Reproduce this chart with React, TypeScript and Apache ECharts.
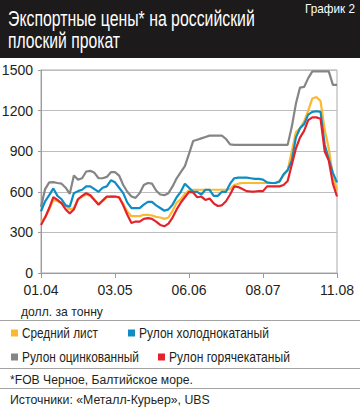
import React, { useEffect, useRef } from 'react';
import * as echarts from 'echarts';

// ---- data ----
const tickLabels = ['01.04', '03.05', '06.06', '08.07', '11.08'];
const stepsPerTick = 18;
const categories = Array.from({ length: (tickLabels.length - 1) * stepsPerTick + 1 }, (_, i) => String(i));

const seriesNames = ['Рулон оцинкованный', 'Средний лист', 'Рулон холоднокатаный', 'Рулон горячекатаный'];

const galvanized = [
  490, 620, 670, 672, 665, 660, 630, 585, 720, 690, 700, 750, 755, 740, 700, 700, 710, 745,
  745, 720, 650, 600, 565, 555, 590, 650, 665, 660, 610, 580, 575, 590, 640, 700, 745, 790,
  880, 975, 985, 995, 1005, 1015, 1015, 1015, 1015, 990, 950,
  947, 947, 947, 947, 947, 947, 947, 947, 947, 947, 947,
  947, 947, 947, 1080, 1250, 1370, 1375, 1440, 1490, 1490, 1490, 1490, 1490, 1390, 1390,
];
const mediumSheet = [
  380, 410, 470, 540, 530, 520, 495, 470, 480, 545, 565, 580, 570, 540, 510, 535, 560, 565,
  565, 555, 510, 455, 420, 420, 420, 430, 430, 425, 415, 410, 400, 410, 460, 520, 545, 585,
  610, 615, 615, 615, 615, 615, 615, 615, 615, 615, 620,
  650, 660, 665, 665, 665, 665, 665, 665, 665, 665, 665,
  680, 720, 760, 900, 1040, 1070, 1120, 1200, 1290, 1300, 1270, 1060, 920, 720, 610,
];
const coldRolled = [
  455, 530, 575, 625, 570, 545, 500, 490, 590, 605, 615, 640, 640, 620, 600, 630, 640, 685,
  670, 630, 590, 520, 480, 480, 480, 505, 525, 525, 500, 480, 460, 470, 505, 560, 600, 660,
  630, 600, 600, 580, 615, 615, 570, 570, 600, 600, 660,
  700, 705, 705, 705, 700, 695, 695, 690, 670, 665, 665,
  675, 730, 760, 830, 1000, 1070, 1100, 1170, 1190, 1195, 1190, 950, 840, 740, 670,
];
const hotRolled = [
  355, 410, 480, 560, 540, 515, 470, 440, 470, 545, 570, 590, 575, 540, 505, 535, 565, 565,
  565, 560, 500, 430, 370, 380, 380, 400, 405, 400, 380, 355, 345, 365, 410, 470, 520, 560,
  600, 595, 560, 565, 540, 550, 515, 495, 500, 530, 580,
  640, 635, 620, 605, 602, 602, 605, 605, 640, 640, 640,
  640, 650, 680, 800, 920, 1000, 1050, 1130, 1150, 1150, 1140, 900, 830, 660, 565,
];

const seriesData = [galvanized, mediumSheet, coldRolled, hotRolled];
const seriesColors = ['#858585', '#fbb92f', '#0e8dc4', '#e4222b'];

const FONT = "'Liberation Sans', Arial, sans-serif";
const TEXT = '#231f20';

let measureCtx: CanvasRenderingContext2D | null = null;
function measure(text: string, size: number): number {
  if (!measureCtx) measureCtx = document.createElement('canvas').getContext('2d');
  if (!measureCtx) return text.length * size * 0.5;
  measureCtx.font = `${size}px ${FONT}`;
  return measureCtx.measureText(text).width;
}

// text squeezed horizontally to a target width (the original uses a condensed face)
function fitText(text: string, size: number, x: number, y: number, width: number, fill: string, align: 'left' | 'right' = 'left') {
  const w = measure(text, size);
  const sx = Math.min(1, width / w);
  return {
    type: 'text',
    x,
    y,
    scaleX: sx,
    silent: true,
    style: { text, fill, fontSize: size, fontFamily: FONT, verticalAlign: 'middle', align },
  };
}

export default function App() {
  const ref = useRef<HTMLDivElement>(null);
  useEffect(() => {
    if (!ref.current) return;
    const chart = echarts.init(ref.current, undefined, { renderer: 'svg' });

    const legendEntries: [number, number, number, number][] = [
      // [series index, icon x, row centre y, text width]
      [1, 11, 333, 76],
      [2, 128, 333, 130],
      [0, 11, 357, 117],
      [3, 158, 357, 121],
    ];
    const legendGraphics: any[] = [];
    legendEntries.forEach(([si, x, cy, tw]) => {
      legendGraphics.push({
        type: 'rect',
        shape: { x, y: cy - 3.5, width: 7, height: 7 },
        style: { fill: seriesColors[si] },
        silent: true,
      });
      legendGraphics.push(fitText(seriesNames[si], 14, x + 11, cy, tw, TEXT));
    });

    const option: any = {
      animation: false,
      backgroundColor: '#ffffff',
      textStyle: { fontFamily: FONT },
      grid: {
        left: 41,
        right: 23,
        top: 70,
        bottom: 142,
        show: true,
        borderColor: '#ababab',
        borderWidth: 1,
        containLabel: false,
        outerBoundsMode: 'none',
      },
      xAxis: {
        type: 'category',
        data: categories,
        boundaryGap: false,
        axisLine: { lineStyle: { color: '#9c9c9c', width: 1 } },
        axisTick: { show: true, interval: stepsPerTick - 1, length: 5, lineStyle: { color: '#9c9c9c' } },
        axisLabel: {
          interval: stepsPerTick - 1,
          margin: 10,
          fontSize: 14,
          color: TEXT,
          fontFamily: FONT,
          formatter: (_v: string, i: number) => tickLabels[i / stepsPerTick] ?? '',
        },
        splitLine: { show: false },
      },
      yAxis: {
        type: 'value',
        min: 0,
        max: 1500,
        interval: 300,
        axisLine: { show: true, lineStyle: { color: '#9c9c9c' } },
        axisTick: { show: true, length: 3, lineStyle: { color: '#9c9c9c' } },
        axisLabel: { margin: 8, fontSize: 14, color: TEXT, fontFamily: FONT, formatter: (v: number) => String(v) },
        splitLine: { lineStyle: { color: '#bdbdbd', width: 1 } },
      },
      series: seriesNames.map((name, i) => ({
        name,
        type: 'line',
        data: seriesData[i],
        color: seriesColors[i],
        symbol: 'none',
        lineStyle: { width: 2.2 },
        emphasis: { disabled: true },
      })),
      graphic: [
        { type: 'rect', shape: { x: 0, y: 0, width: 360, height: 58 }, style: { fill: '#1d1a1b' }, silent: true },
        fitText('Экспортные цены* на российский', 22, 8, 18.5, 247, '#ffffff'),
        fitText('плоский прокат', 22, 8, 40.5, 112, '#ffffff'),
        fitText('График 2', 12.5, 355, 8.5, 50, '#ffffff', 'right'),
        fitText('долл. за тонну', 13, 21, 311.5, 82, TEXT),
        { type: 'line', shape: { x1: 0, y1: 320.5, x2: 360, y2: 320.5 }, style: { stroke: '#a3a3a3', lineWidth: 1 }, silent: true },
        ...legendGraphics,
        { type: 'line', shape: { x1: 0, y1: 368.5, x2: 360, y2: 368.5 }, style: { stroke: '#a3a3a3', lineWidth: 1 }, silent: true },
        fitText('*FOB Черное, Балтийское море.', 13.5, 10, 379, 183, TEXT),
        { type: 'line', shape: { x1: 0, y1: 388.5, x2: 360, y2: 388.5 }, style: { stroke: '#a3a3a3', lineWidth: 1 }, silent: true },
        fitText('Источники: «Металл-Курьер», UBS', 13.5, 10, 399, 200, TEXT),
      ],
    };
    chart.setOption(option);
    return () => chart.dispose();
  }, []);
  return <div ref={ref} style={{ position: 'fixed', left: 0, top: 0, width: 360, height: 415 }} />;
}
